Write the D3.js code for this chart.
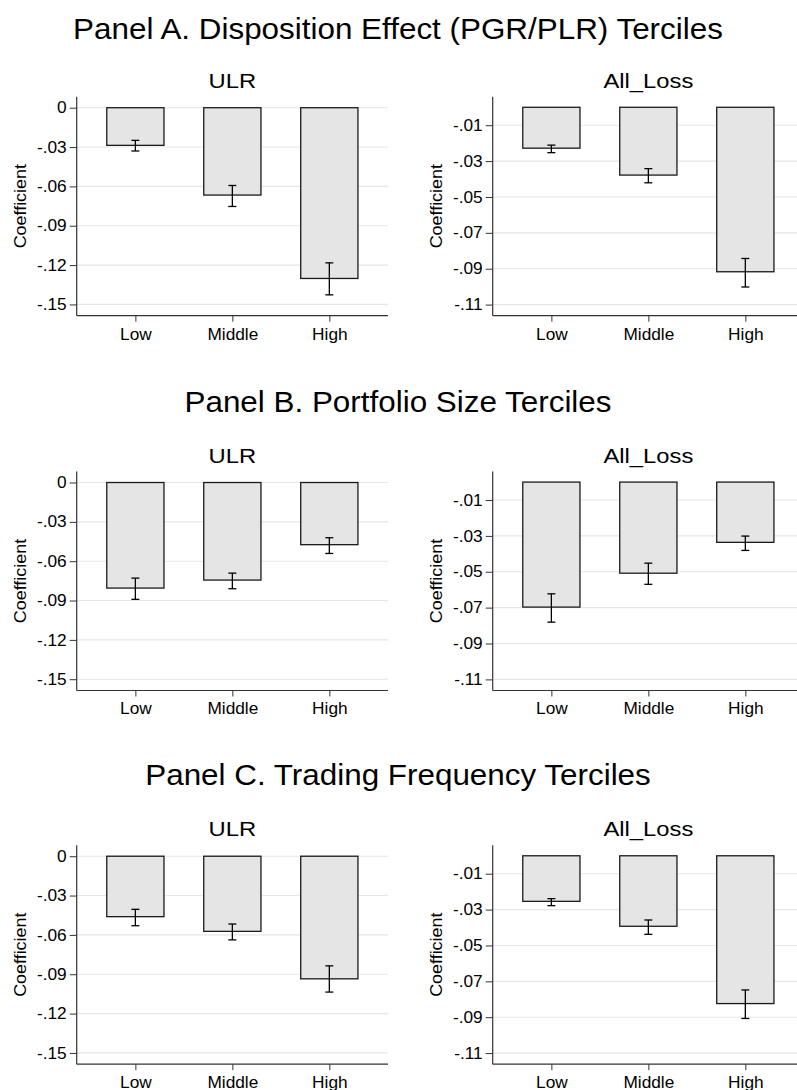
<!DOCTYPE html>
<html>
<head>
<meta charset="utf-8">
<script src="https://cdn.jsdelivr.net/npm/d3@7"></script>
<style>
  html, body { margin: 0; padding: 0; background: #fff; }
  svg { display: block; }
  text { font-family: "Liberation Sans", Arial, Helvetica, sans-serif; fill: #000; }
</style>
</head>
<body>
<svg id="chart" width="797" height="1090"></svg>
<script>
// ---------- data ----------
const categories = ["Low", "Middle", "High"];
const panelTitles = [
  "Panel A. Disposition Effect (PGR/PLR) Terciles",
  "Panel B. Portfolio Size Terciles",
  "Panel C. Trading Frequency Terciles"
];
const subTitles = ["ULR", "All_Loss"];

const ulrTicks = [0, -0.03, -0.06, -0.09, -0.12, -0.15];
const ulrTickLabels = ["0", "-.03", "-.06", "-.09", "-.12", "-.15"];
const lossTicks = [-0.01, -0.03, -0.05, -0.07, -0.09, -0.11];
const lossTickLabels = ["-.01", "-.03", "-.05", "-.07", "-.09", "-.11"];

// Panel A
const ulrA    = [-0.0287, -0.0666, -0.1302];
const ulrA_lo = [-0.0330, -0.0753, -0.1427];
const ulrA_hi = [-0.0249, -0.0593, -0.1183];
const lossA    = [-0.0228, -0.0378, -0.0917];
const lossA_lo = [-0.0253, -0.0421, -0.1002];
const lossA_hi = [-0.0211, -0.0342, -0.0843];
// Panel B
const ulrB    = [-0.0805, -0.0744, -0.0474];
const ulrB_lo = [-0.0891, -0.0810, -0.0541];
const ulrB_hi = [-0.0729, -0.0691, -0.0421];
const lossB    = [-0.0697, -0.0508, -0.0336];
const lossB_lo = [-0.0781, -0.0570, -0.0381];
const lossB_hi = [-0.0623, -0.0452, -0.0301];
// Panel C
const ulrC    = [-0.0461, -0.0573, -0.0935];
const ulrC_lo = [-0.0530, -0.0638, -0.1036];
const ulrC_hi = [-0.0405, -0.0517, -0.0836];
const lossC    = [-0.0254, -0.0393, -0.0824];
const lossC_lo = [-0.0278, -0.0438, -0.0907];
const lossC_hi = [-0.0239, -0.0358, -0.0748];

const ulrDomain = [0.0084, -0.1586];
const lossDomain = [0.0059, -0.1162];

// ---------- layout ----------
const svg = d3.select("#chart");
const rowTops = [96.7, 471.5, 845.2];
const titleY = [39, 411.5, 785];
const plotH = 219;
const cols = [
  { x0: 76.7, x1: 388 },
  { x0: 492.7, x1: 804 }
];
const FONT = "'Liberation Sans', Arial, Helvetica, sans-serif";

const rows = [
  { ulr: [ulrA, ulrA_lo, ulrA_hi], loss: [lossA, lossA_lo, lossA_hi] },
  { ulr: [ulrB, ulrB_lo, ulrB_hi], loss: [lossB, lossB_lo, lossB_hi] },
  { ulr: [ulrC, ulrC_lo, ulrC_hi], loss: [lossC, lossC_lo, lossC_hi] }
];

// horizontally stretch text around its anchor point
function stretch(sel, s) {
  sel.each(function () {
    const t = d3.select(this);
    const x = +t.attr("x") || 0;
    const y = +t.attr("y") || 0;
    t.attr("x", 0).attr("y", 0).attr("transform", `translate(${x},${y}) scale(${s},1)`);
  });
}

function drawPlot(g, col, top, title, vals, lo, hi, domain, ticks, tickLabels) {
  const y = d3.scaleLinear().domain(domain).range([top, top + plotH]);
  const x = d3.scaleBand().domain(categories).range([col.x0, col.x1])
    .paddingInner(0.41).paddingOuter(0.31);
  const bottom = top + plotH;

  // subtitle
  g.append("text")
    .attr("x", (col.x0 + col.x1) / 2)
    .attr("y", top - 9)
    .attr("text-anchor", "middle")
    .attr("font-size", 19.5)
    .text(title)
    .call(stretch, 1.22);

  // gridlines
  g.append("g").selectAll("line").data(ticks).join("line")
    .attr("x1", col.x0).attr("x2", col.x1)
    .attr("y1", d => y(d)).attr("y2", d => y(d))
    .attr("stroke", "#e6e6e6").attr("stroke-width", 1.1);

  // bars
  g.append("g").selectAll("rect").data(categories).join("rect")
    .attr("x", d => x(d))
    .attr("width", x.bandwidth())
    .attr("y", (d, i) => Math.min(y(0), y(vals[i])))
    .attr("height", (d, i) => Math.abs(y(vals[i]) - y(0)))
    .attr("fill", "#e5e5e5")
    .attr("stroke", "#1a1a1a")
    .attr("stroke-width", 1.3);

  // error bars
  const eb = g.append("g").attr("stroke", "#000").attr("stroke-width", 1.3);
  categories.forEach((c, i) => {
    const cx = x(c) + x.bandwidth() / 2;
    eb.append("line").attr("x1", cx).attr("x2", cx).attr("y1", y(lo[i])).attr("y2", y(hi[i]));
    eb.append("line").attr("x1", cx - 4).attr("x2", cx + 4).attr("y1", y(lo[i])).attr("y2", y(lo[i]));
    eb.append("line").attr("x1", cx - 4).attr("x2", cx + 4).attr("y1", y(hi[i])).attr("y2", y(hi[i]));
  });

  // y axis
  const yAxis = d3.axisLeft(y).tickValues(ticks)
    .tickFormat((d, i) => tickLabels[i]).tickSize(7).tickPadding(3).tickSizeOuter(0);
  const ya = g.append("g").attr("transform", `translate(${col.x0},0)`).call(yAxis);
  ya.select(".domain").attr("d", `M0,${top}V${bottom}`).attr("stroke", "#333").attr("stroke-width", 1.2);
  ya.selectAll(".tick line").attr("stroke", "#333").attr("stroke-width", 1);
  ya.selectAll(".tick text").attr("font-size", 16)
    .attr("font-family", FONT).attr("fill", "#000")
    .call(stretch, 1.08);

  // x axis
  const xPoint = d3.scalePoint().domain(categories)
    .range([x("Low") + x.bandwidth() / 2, x("High") + x.bandwidth() / 2]);
  const xAxis = d3.axisBottom(xPoint).tickSize(6).tickPadding(6.5).tickSizeOuter(0);
  const xa = g.append("g").attr("transform", `translate(0,${bottom})`).call(xAxis);
  xa.select(".domain").attr("d", `M${col.x0},0H${col.x1}`).attr("stroke", "#333").attr("stroke-width", 1.2);
  xa.selectAll(".tick line").attr("stroke", "#333").attr("stroke-width", 1);
  xa.selectAll(".tick text").attr("font-size", 16)
    .attr("font-family", FONT).attr("fill", "#000")
    .call(stretch, 1.08);

  // y label
  g.append("text")
    .attr("transform", `translate(${col.x0 - 50.5},${top + plotH / 2}) rotate(-90) scale(1.12,1)`)
    .attr("text-anchor", "middle")
    .attr("font-size", 16)
    .text("Coefficient");
}

rows.forEach((r, ri) => {
  const top = rowTops[ri];
  const g = svg.append("g");
  g.append("text")
    .attr("x", 398)
    .attr("y", titleY[ri])
    .attr("text-anchor", "middle")
    .attr("font-size", 30)
    .text(panelTitles[ri])
    .call(stretch, 1.047);
  drawPlot(g, cols[0], top, subTitles[0], r.ulr[0], r.ulr[1], r.ulr[2], ulrDomain, ulrTicks, ulrTickLabels);
  drawPlot(g, cols[1], top, subTitles[1], r.loss[0], r.loss[1], r.loss[2], lossDomain, lossTicks, lossTickLabels);
});
</script>
</body>
</html>
